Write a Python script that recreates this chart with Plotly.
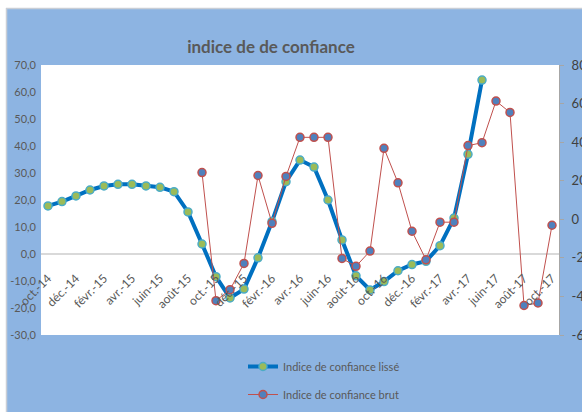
import plotly.graph_objects as go

# mois, oct.-14 -> oct.-17
mois = ["oct.-14", "nov.-14", "déc.-14", "janv.-15", "févr.-15", "mars-15", "avr.-15",
        "mai-15", "juin-15", "juil.-15", "août-15", "sept.-15", "oct.-15", "nov.-15",
        "déc.-15", "janv.-16", "févr.-16", "mars-16", "avr.-16", "mai-16", "juin-16",
        "juil.-16", "août-16", "sept.-16", "oct.-16", "nov.-16", "déc.-16", "janv.-17",
        "févr.-17", "mars-17", "avr.-17", "mai-17", "juin-17", "juil.-17", "août-17",
        "sept.-17", "oct.-17"]

lisse = [17.8, 19.4, 21.5, 23.7, 25.2, 25.8, 25.8, 25.2, 24.7, 23.1, 15.6, 3.7, -8.4,
         -16.3, -13.0, -1.4, 12.0, 26.8, 34.8, 32.2, 20.0, 5.2, -8.1, -13.3, -10.2, -6.2,
         -3.9, -2.7, 3.1, 13.3, 36.9, 64.4, None, None, None, None, None]

brut = [None, None, None, None, None, None, None, None, None, None, None, 24.2, -42.2,
        -36.5, -22.9, 22.7, -2.1, 22.2, 42.5, 42.5, 42.5, -20.3, -24.4, -16.5, 36.8, 18.9,
        -6.2, -21.0, -1.5, -1.5, 38.2, 39.7, 61.3, 55.4, -44.7, -43.4, -3.1]

gauche_vals = [70, 60, 50, 40, 30, 20, 10, 0, -10, -20, -30]
gauche_txt = ["70,0", "60,0", "50,0", "40,0", "30,0", "20,0", "10,0", "0,0", "-10,0", "-20,0", "-30,0"]
droite_vals = [80, 60, 40, 20, 0, -20, -40, -60]
droite_txt = ["80", "60", "40", "20", "0", "-20", "-40", "-60"]

GRIS = "#595959"
FONT = "Lato, Roboto, sans-serif"
FOND = "#8DB4E2"

fig = go.Figure()
fig.add_trace(go.Scatter(
    x=mois, y=lisse, name="Indice de confiance lissé", mode="lines+markers",
    legendgroup="a",
    line=dict(color="#0070C0", width=4),
    marker=dict(size=8, color="#9BBB59", line=dict(color="#4BACC6", width=1.5)),
    yaxis="y"))
fig.add_trace(go.Scatter(
    x=mois, y=brut, name="Indice de confiance brut", mode="lines+markers",
    legendgroup="b",
    line=dict(color="#C0504D", width=1),
    marker=dict(size=8, color="#4F81BD", line=dict(color="#C0504D", width=1.5)),
    yaxis="y2"))

# page without body margin: figure 582x412, plot area 41..559 x 65..335
def px(x):
    return (x - 41) / 518

def py(y):
    return (335 - y) / 270

fig.update_layout(
    width=582, height=412,
    margin=dict(l=41, r=23, t=65, b=77, autoexpand=False),
    paper_bgcolor=FOND, plot_bgcolor="white",
    font=dict(family=FONT, color=GRIS, size=12),
    title=dict(text="<b>indice de de confiance</b>", x=271 / 582, xanchor="center",
               y=1 - 47 / 412, yanchor="middle",
               font=dict(family=FONT, size=17, color=GRIS)),
    showlegend=True,
    legend=dict(x=px(243), y=py(352), xanchor="left", yanchor="top",
                bgcolor="rgba(0,0,0,0)", font=dict(size=11, color=GRIS),
                traceorder="grouped", tracegroupgap=9, itemwidth=30),
    xaxis=dict(type="category", range=[-0.5, 36.5], anchor="free", position=0.3,
               tickmode="array", tickvals=mois[::2], ticktext=mois[::2],
               tickangle=-45, ticks="", showgrid=False, showline=False,
               ticklabelstandoff=14, automargin=False,
               tickfont=dict(size=12, color=GRIS)),
    yaxis=dict(range=[-30, 70], tickvals=gauche_vals, ticktext=gauche_txt,
               showgrid=False, zeroline=True, zerolinecolor="#D9D9D9", zerolinewidth=1.5,
               showline=False, ticks="", ticklabelstandoff=4, automargin=False,
               tickfont=dict(size=11, color=GRIS)),
    yaxis2=dict(range=[-60, 80], tickvals=droite_vals, ticktext=droite_txt,
                overlaying="y", side="right", anchor="x", showgrid=False, zeroline=False,
                showline=True, linecolor="#A6A6A6", linewidth=1,
                ticks="outside", ticklen=4, tickcolor="#A6A6A6", automargin=False,
                ticklabelstandoff=5, tickfont=dict(size=13, color="#404040")),
    shapes=[
        # white page border around the chart frame, as in the source
        dict(type="rect", xref="paper", yref="paper", x0=px(0), x1=px(582), y0=py(8), y1=py(0),
             fillcolor="white", line=dict(width=0)),
        dict(type="rect", xref="paper", yref="paper", x0=px(0), x1=px(6), y0=py(412), y1=py(0),
             fillcolor="white", line=dict(width=0)),
        dict(type="line", xref="paper", yref="paper", x0=px(6), x1=px(582), y0=py(8.5), y1=py(8.5),
             line=dict(color="#C9CED6", width=1.5)),
        dict(type="line", xref="paper", yref="paper", x0=px(6.5), x1=px(6.5), y0=py(412), y1=py(8),
             line=dict(color="#C9CED6", width=1.5)),
    ],
)

fig.write_html("out.html",
               config={"displayModeBar": False},
               post_script="document.body.style.margin='0';"
                           "document.documentElement.style.overflow='hidden';"
                           "document.body.style.overflow='hidden';")
